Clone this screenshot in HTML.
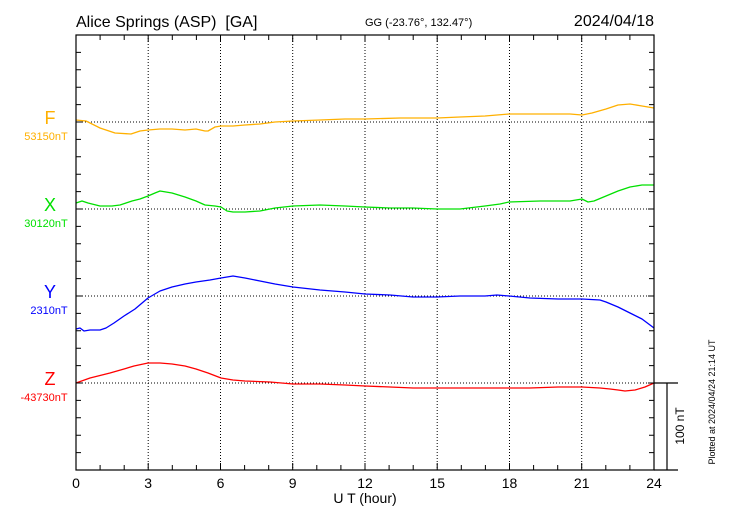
<!DOCTYPE html>
<html><head><meta charset="utf-8"><style>
html,body{margin:0;padding:0;background:#fff;}
svg{display:block;font-family:"Liberation Sans",Arial,sans-serif;}
</style></head><body>
<svg width="730" height="520" viewBox="0 0 730 520" xmlns="http://www.w3.org/2000/svg">
<rect width="730" height="520" fill="#fff"/>
<g id="grid" stroke="#000" stroke-width="1" stroke-dasharray="1,2">
<line x1="148.2" y1="35" x2="148.2" y2="470"/>
<line x1="220.5" y1="35" x2="220.5" y2="470"/>
<line x1="292.7" y1="35" x2="292.7" y2="470"/>
<line x1="365" y1="35" x2="365" y2="470"/>
<line x1="437.2" y1="35" x2="437.2" y2="470"/>
<line x1="509.5" y1="35" x2="509.5" y2="470"/>
<line x1="581.7" y1="35" x2="581.7" y2="470"/>
<line x1="76" y1="122" x2="654" y2="122"/>
<line x1="76" y1="209" x2="654" y2="209"/>
<line x1="76" y1="296" x2="654" y2="296"/>
<line x1="76" y1="383" x2="654" y2="383"/>
</g>
<g fill="none" stroke-width="1.3" stroke-linejoin="round">
<polyline stroke="#ffb000" points="76,120 86,121 100,128 115,133 131,134 140,131 148,130 160,129 172,129 185,130 196,129 205,131 208,131 215,127 221,126 233,126 245,125 260,124 275,122 293,121 320,120 345,119 365,119 400,118 437,118 460,117 485,116 509,114 540,114 570,114 582,115 592,113 606,109 618,105 630,104 642,106 654,108"/>
<polyline stroke="#00e000" points="76,203 82,201 88,203 100,206 112,206 120,205 126,203 132,201 140,199 148,196 155,193 160,191 172,193 185,197 196,201 205,205 215,206 221,207 227,211 233,212 245,212 260,211 275,208 293,206 320,205 345,206 365,207 390,208 413,208 437,209 460,209 485,206 500,204 509,202 540,201 570,201 582,199 588,202 594,201 606,196 618,191 630,187 642,185 654,185"/>
<polyline stroke="#0000ff" points="76,329 80,328 84,331 90,330 100,330 106,328 114,323 124,316 135,309 148,298 160,291 172,287 185,284 196,282 210,280 221,278 233,276 245,278 260,281 275,284 293,287 320,290 345,292 365,294 390,295 413,297 437,297 460,296 485,296 497,295 509,296 530,298 558,299 582,299 600,300 606,302 618,307 630,313 642,319 654,328"/>
<polyline stroke="#ff0000" points="76,383 90,378 110,373 124,369 134,366 148,363 160,363 172,364 185,366 196,369 208,373 221,378 233,380 245,381 270,382 293,384 320,384 345,385 365,386 390,387 413,388 437,388 460,388 485,388 509,388 530,388 558,387 582,387 600,388 610,389 618,390 625,391 635,390 645,387 654,383"/>
</g>
<g stroke="#000" stroke-width="1.2" fill="none">
<rect x="76" y="35" width="578" height="435"/>
<line x1="654" y1="383" x2="678" y2="383"/>
<line x1="654" y1="470" x2="678" y2="470"/>
<line x1="667" y1="383" x2="667" y2="470"/>
</g>
<g stroke="#000" stroke-width="1">
<path d="M100.1,470v-5M124.2,470v-5M148.2,470v-7M172.3,470v-5M196.4,470v-5M220.5,470v-7M244.6,470v-5M268.7,470v-5M292.7,470v-7M316.8,470v-5M340.9,470v-5M365,470v-7M389.1,470v-5M413.2,470v-5M437.2,470v-7M461.3,470v-5M485.4,470v-5M509.5,470v-7M533.6,470v-5M557.7,470v-5M581.7,470v-7M605.8,470v-5M629.9,470v-5"/>
<path d="M100.1,35v5M124.2,35v5M148.2,35v7M172.3,35v5M196.4,35v5M220.5,35v7M244.6,35v5M268.7,35v5M292.7,35v7M316.8,35v5M340.9,35v5M365,35v7M389.1,35v5M413.2,35v5M437.2,35v7M461.3,35v5M485.4,35v5M509.5,35v7M533.6,35v5M557.7,35v5M581.7,35v7M605.8,35v5M629.9,35v5"/>
<path d="M76,52.4h5M76,69.8h5M76,87.2h5M76,104.6h5M76,122h6M76,139.4h5M76,156.8h5M76,174.2h5M76,191.6h5M76,209h6M76,226.4h5M76,243.8h5M76,261.2h5M76,278.6h5M76,296h6M76,313.4h5M76,330.8h5M76,348.2h5M76,365.6h5M76,383h6M76,400.4h5M76,417.8h5M76,435.2h5M76,452.6h5"/>
<path d="M654,52.4h-5M654,69.8h-5M654,87.2h-5M654,104.6h-5M654,122h-6M654,139.4h-5M654,156.8h-5M654,174.2h-5M654,191.6h-5M654,209h-6M654,226.4h-5M654,243.8h-5M654,261.2h-5M654,278.6h-5M654,296h-6M654,313.4h-5M654,330.8h-5M654,348.2h-5M654,365.6h-5M654,383h-6M654,400.4h-5M654,417.8h-5M654,435.2h-5M654,452.6h-5"/>
</g>
<g font-size="14" fill="#000" text-anchor="middle">
<text x="76" y="488">0</text><text x="148.2" y="488">3</text><text x="220.5" y="488">6</text><text x="292.7" y="488">9</text><text x="365" y="488">12</text><text x="437.2" y="488">15</text><text x="509.5" y="488">18</text><text x="581.7" y="488">21</text><text x="654" y="488">24</text>
<text x="365" y="503">U T (hour)</text>
</g>
<text x="76" y="27" font-size="16">Alice Springs (ASP) &#160;[GA]</text>
<text x="365" y="26" font-size="11">GG (-23.76°, 132.47°)</text>
<text x="654" y="26" font-size="16" text-anchor="end">2024/04/18</text>
<g text-anchor="middle">
<text x="50" y="124" font-size="18" fill="#ffb000">F</text>
<text x="46" y="140" font-size="11" fill="#ffb000">53150nT</text>
<text x="50" y="211" font-size="18" fill="#00e000">X</text>
<text x="46" y="227" font-size="11" fill="#00e000">30120nT</text>
<text x="50" y="298" font-size="18" fill="#0000ff">Y</text>
<text x="49" y="314" font-size="11" fill="#0000ff">2310nT</text>
<text x="50" y="385" font-size="18" fill="#ff0000">Z</text>
<text x="44" y="401" font-size="11" fill="#ff0000">-43730nT</text>
</g>
<text transform="translate(684,426) rotate(-90)" font-size="12" text-anchor="middle">100 nT</text>
<text transform="translate(715,402) rotate(-90)" font-size="9" text-anchor="middle">Plotted at 2024/04/24 21:14 UT</text>
</svg>
</body></html>
